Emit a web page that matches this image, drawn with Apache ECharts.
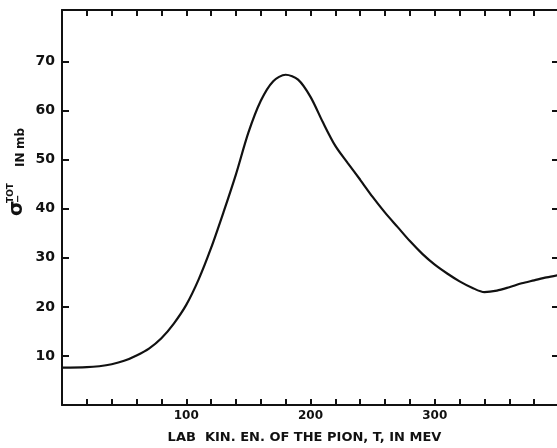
<!DOCTYPE html>
<html>
<head>
<meta charset="utf-8">
<script src="https://cdn.jsdelivr.net/npm/echarts@6/dist/echarts.min.js"></script>
<style>
html,body{margin:0;padding:0;background:#fff;}
#c{width:557px;height:448px;}
</style>
</head>
<body>
<div id="c"></div>
<script>
// Pion kinetic energy T (MeV)
const energy = [0, 20, 30, 40, 50, 60, 70, 80, 90, 100, 110, 120, 130, 140, 150, 160, 170, 180, 190, 200, 210, 220, 230, 240, 250, 260, 270, 280, 290, 300, 310, 320, 330, 340, 350, 360, 370, 380, 390, 400];
// total cross section sigma_-^TOT (mb)
const sigma = [7.6, 7.7, 7.9, 8.3, 9.0, 10.1, 11.5, 13.6, 16.6, 20.4, 25.6, 32.0, 39.3, 47.0, 55.5, 62.0, 66.0, 67.3, 66.3, 62.8, 57.6, 52.8, 49.3, 45.9, 42.4, 39.2, 36.3, 33.4, 30.8, 28.6, 26.8, 25.2, 23.9, 23.0, 23.3, 24.0, 24.8, 25.4, 26.0, 26.5];
const xTickLabels = [100, 200, 300];
const yTickValues = [10, 20, 30, 40, 50, 60, 70];

const FONT = '"DejaVu Sans", sans-serif';
const INK = '#111';

const chart = echarts.init(document.getElementById('c'), null, {renderer: 'canvas'});
const pts = energy.map((e, i) => [e, sigma[i]]);

const axisLineStyle = {show: true, onZero: false, lineStyle: {color: INK, width: 2}};
const tickStyle = {color: INK, width: 2};
chart.setOption({
  animation: false,
  backgroundColor: '#fff',
  grid: {left: 62, right: -2, top: 10, bottom: 43, outerBoundsMode: 'none', containLabel: false},
  xAxis: [{
    type: 'value', position: 'bottom', min: 0, max: 400, interval: 20,
    axisLine: axisLineStyle,
    axisTick: {show: true, inside: true, length: 6, lineStyle: tickStyle},
    splitLine: {show: false},
    axisLabel: {
      color: INK, fontFamily: FONT, fontSize: 12, fontWeight: 'bold', margin: 5,
      formatter: v => xTickLabels.indexOf(v) >= 0 ? String(v) : ''
    },
    name: 'LAB  KIN. EN. OF THE PION, T, IN MEV',
    nameLocation: 'middle', nameGap: 26, nameMoveOverlap: false,
    nameTextStyle: {color: INK, fontFamily: FONT, fontSize: 13, fontWeight: 'bold', padding: [0, 12, 0, 0]}
  }, {
    type: 'value', position: 'top', min: 0, max: 400, interval: 20,
    axisLine: axisLineStyle,
    axisTick: {show: true, inside: true, length: 6, lineStyle: tickStyle},
    axisLabel: {show: false}, splitLine: {show: false}
  }],
  yAxis: [{
    type: 'value', position: 'left', min: 0, max: 80.5, interval: 10,
    axisLine: axisLineStyle,
    axisTick: {show: true, inside: true, length: 7, customValues: yTickValues, lineStyle: tickStyle},
    axisLabel: {
      color: INK, fontFamily: FONT, fontSize: 14, fontWeight: 'bold', margin: 7, customValues: yTickValues,
      formatter: v => yTickValues.indexOf(v) >= 0 ? String(v) : ''
    },
    splitLine: {show: false}
  }, {
    type: 'value', position: 'right', min: 0, max: 80.5, interval: 10,
    axisLine: {show: false, onZero: false},
    axisTick: {show: true, inside: true, length: 7, customValues: yTickValues, lineStyle: tickStyle},
    axisLabel: {show: false}, splitLine: {show: false}
  }],
  series: [{
    type: 'line', data: pts, xAxisIndex: 0, yAxisIndex: 0,
    smooth: 0.3, showSymbol: false, symbol: 'none',
    lineStyle: {color: INK, width: 2.2}
  }],
  graphic: [{
    type: 'group', x: 27, y: 216, rotation: Math.PI / 2,
    children: [
      {type: 'text', x: 0, y: 0, style: {text: 'σ', font: 'bold 20px ' + FONT, fill: INK, textVerticalAlign: 'bottom'}},
      {type: 'text', x: 13, y: -4, style: {text: '−', font: 'bold 10px ' + FONT, fill: INK, textVerticalAlign: 'bottom'}},
      {type: 'text', x: 13, y: -12, style: {text: 'TOT', font: 'bold 9px ' + FONT, fill: INK, textVerticalAlign: 'bottom'}},
      {type: 'text', x: 49, y: 0, style: {text: 'IN', font: 'bold 12px ' + FONT, fill: INK, textVerticalAlign: 'bottom'}},
      {type: 'text', x: 67, y: 0, style: {text: 'mb', font: 'bold 12px ' + FONT, fill: INK, textVerticalAlign: 'bottom'}}
    ]
  }]
});
</script>
</body>
</html>
